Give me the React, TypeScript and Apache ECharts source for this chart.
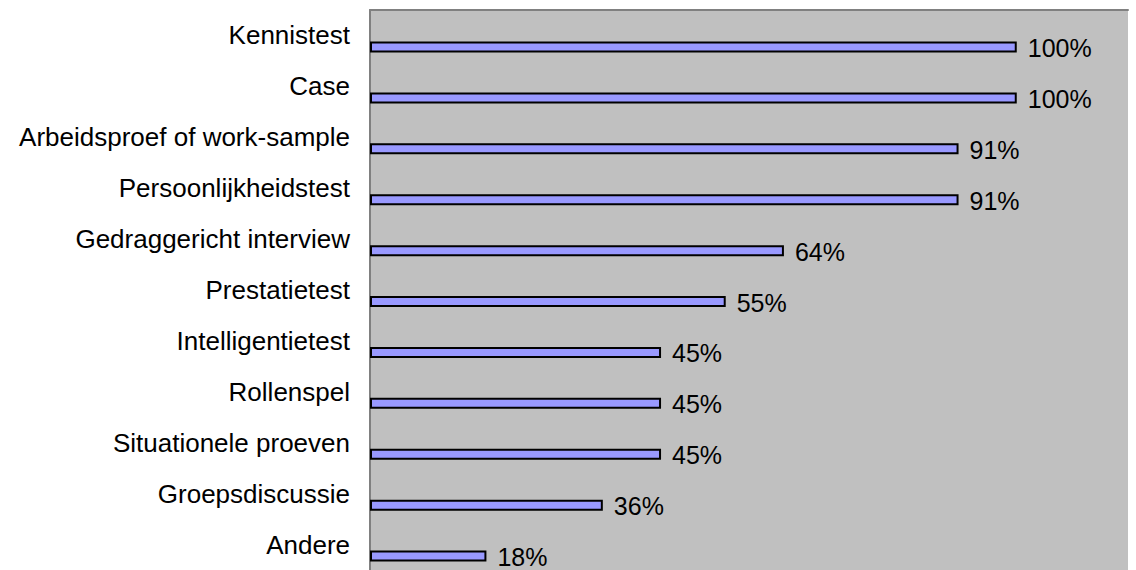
import React, { useEffect, useRef } from "react";
import * as echarts from "echarts";

const categories = [
  "Kennistest",
  "Case",
  "Arbeidsproef of work-sample",
  "Persoonlijkheidstest",
  "Gedraggericht interview",
  "Prestatietest",
  "Intelligentietest",
  "Rollenspel",
  "Situationele proeven",
  "Groepsdiscussie",
  "Andere",
];
const values = [100, 100, 91, 91, 64, 55, 45, 45, 45, 36, 18];
const spacer = categories.map(() => null as number | null);

export default function App() {
  const ref = useRef<HTMLDivElement>(null);
  useEffect(() => {
    document.body.style.margin = "0";
    const chart = echarts.init(ref.current!, null, { renderer: "svg" });
    chart.setOption({
      animation: false,
      textStyle: { fontFamily: "'Liberation Sans', Arial, sans-serif" },
      grid: {
        left: 370,
        right: 8,
        top: 10,
        height: 561.5,
        show: true,
        backgroundColor: "#C0C0C0",
        borderWidth: 0,
      },
      xAxis: {
        type: "value",
        position: "top",
        min: 0,
        max: 117.2,
        axisLine: { show: true, onZero: false, lineStyle: { color: "#808080", width: 2 } },
        axisTick: { show: false },
        axisLabel: { show: false },
        splitLine: { show: false },
      },
      yAxis: {
        type: "category",
        inverse: true,
        data: categories,
        axisLine: { show: true, lineStyle: { color: "#808080", width: 2 } },
        axisTick: { show: false },
        axisLabel: {
          margin: 20,
          fontSize: 26,
          color: "#000",
          fontFamily: "'Liberation Sans', Arial, sans-serif",
        },
      },
      series: [
        {
          type: "bar",
          data: spacer,
          barWidth: 11,
          barGap: "110%",
          silent: true,
        },
        {
          type: "bar",
          data: values,
          barWidth: 11,
          barGap: "110%",
          itemStyle: { color: "#9999FF", borderColor: "#000", borderWidth: 2 },
          label: {
            show: true,
            position: "right",
            distance: 11,
            offset: [0, 1],
            formatter: (p: any) => p.value + "%",
            fontSize: 25,
            color: "#000",
            fontFamily: "'Liberation Sans', Arial, sans-serif",
          },
        },
      ],
    });
    return () => chart.dispose();
  }, []);
  return <div ref={ref} style={{ width: 1136, height: 570 }} />;
}
